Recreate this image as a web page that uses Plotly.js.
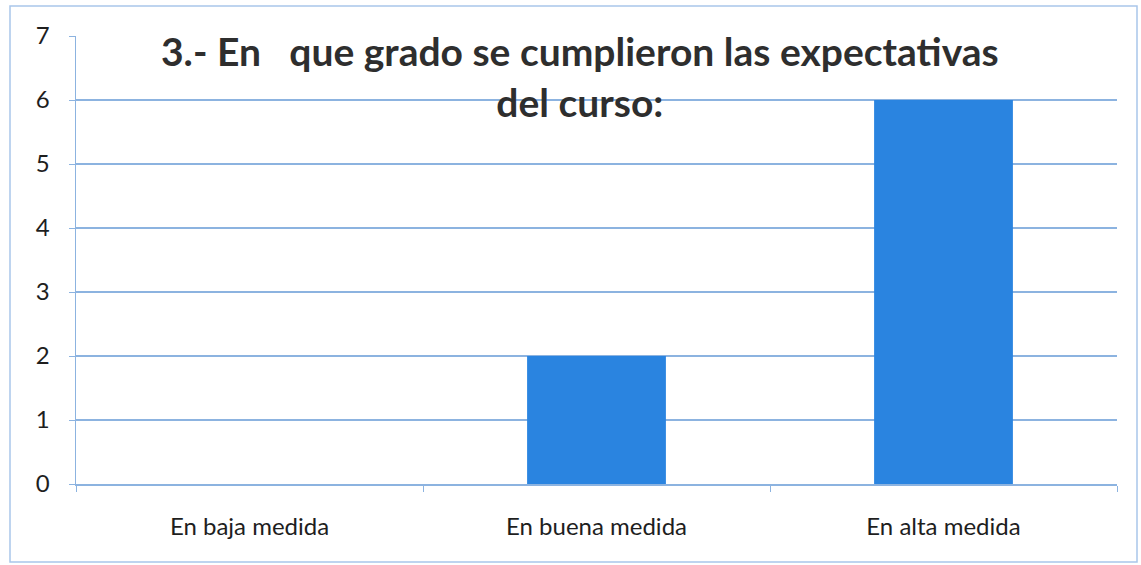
<!DOCTYPE html>
<html><head><meta charset="utf-8">
<script src="https://cdn.plot.ly/plotly-3.0.1.min.js"></script>
<style>html,body{margin:0;padding:0;background:#fff}#c{width:1141px;height:565px}</style>
</head><body><div id="c"></div>
<script>
const categories = ["En baja medida", "En buena medida", "En alta medida"];
const values = [0, 2, 6];
const yTicks = [0, 1, 2, 3, 4, 5, 6, 7];
const titleText = "3.- En   que grado se cumplieron las expectativas<br>del curso:";

const W = 1141, H = 565, L = 76, R = 24, T = 36, B = 81;
const pw = W - L - R, ph = H - T - B;
const px = x => (x - L) / pw;
const py = y => (H - B - y) / ph;

Plotly.newPlot('c', [{
  type: 'bar', x: categories, y: values, width: 0.4,
  marker: {color: '#2a84e0', line: {width: 0}}, hoverinfo: 'x+y'
}], {
  width: W, height: H,
  margin: {l: L, r: R, t: T, b: B, pad: 0},
  paper_bgcolor: '#fff', plot_bgcolor: '#fff',
  showlegend: false,
  font: {family: 'Lato, "Open Sans", sans-serif', color: '#222'},
  xaxis: {
    showline: true, linecolor: '#8cb3e0', linewidth: 1.5,
    ticks: 'outside', tickson: 'boundaries', ticklen: 6, tickcolor: '#8cb3e0',
    ticklabelstandoff: 21,
    tickfont: {size: 24, color: '#1e1e1e'}, showgrid: false, zeroline: false
  },
  yaxis: {
    range: [0, 7], tickvals: yTicks, ticktext: yTicks.map(String),
    showline: true, linecolor: '#8cb3e0', linewidth: 1.5,
    ticks: 'outside', ticklen: 6, tickcolor: '#8cb3e0',
    ticklabelstandoff: 14,
    showgrid: true, gridcolor: '#8cb3e0', gridwidth: 1.2, zeroline: false,
    tickfont: {size: 24, color: '#1e1e1e'}
  },
  annotations: [{
    text: '<b>' + titleText + '</b>', xref: 'paper', yref: 'paper',
    x: px(580), y: py(77), xanchor: 'center', yanchor: 'middle',
    showarrow: false, align: 'center',
    font: {size: 39, color: '#2e2e2e', family: 'Lato, sans-serif'}
  }],
  shapes: [{
    type: 'rect', xref: 'paper', yref: 'paper',
    x0: px(10), x1: px(1137), y0: py(562), y1: py(6),
    line: {color: '#a9c6ea', width: 1.5}, fillcolor: 'rgba(0,0,0,0)', layer: 'below'
  }]
}, {displayModeBar: false, staticPlot: true});
</script></body></html>
